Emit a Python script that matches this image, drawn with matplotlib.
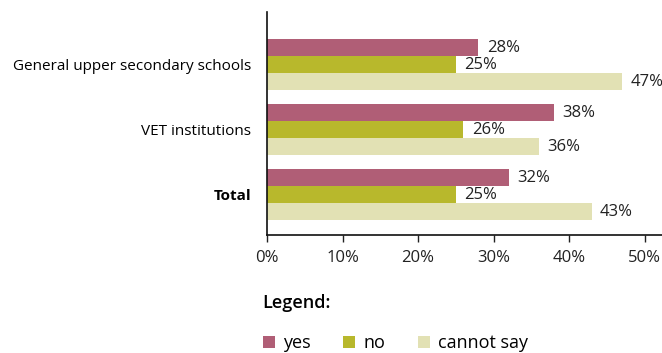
import numpy as np
import matplotlib
matplotlib.use("Agg")
from matplotlib import pyplot as plt
from matplotlib.patches import Patch

plt.rcParams["font.family"] = ["Open Sans", "DejaVu Sans"]

categories = ["General upper secondary schools", "VET institutions", "Total"]
series = ["yes", "no", "cannot say"]
yes = [28, 38, 32]
no = [25, 26, 25]
cannot_say = [47, 36, 43]
colors = ["#B05E76", "#B8B82C", "#E2E1B4"]

fig = plt.figure(figsize=(6.62, 3.53), dpi=100)
ax = fig.add_axes([267 / 662, 1 - 235 / 353, (662 - 267) / 662, (235 - 12) / 353])

y = np.arange(len(categories))
h = 0.262
for i, (vals, c) in enumerate(zip([yes, no, cannot_say], colors)):
    pos = y + (i - 1) * h
    ax.barh(pos, vals, height=h, color=c, label=series[i])
    for p, v in zip(pos, vals):
        ax.text(v + 1.1, p, f"{v}%", va="center", ha="left", fontsize=12, color="#222222")

ax.set_xlim(0, 52.3)
ax.set_ylim(2.62, -0.81)
ax.set_xticks(np.arange(0, 51, 10))
ax.set_xticklabels([f"{t}%" for t in range(0, 51, 10)], fontsize=12)
ax.set_yticks(y)
ax.set_yticklabels(categories, fontsize=11)
ax.get_yticklabels()[2].set_fontweight("bold")
ax.tick_params(axis="y", length=0, pad=11.5)
ax.tick_params(axis="x", length=5, width=1, pad=5.5, colors="#222222")
for s in ["top", "right"]:
    ax.spines[s].set_visible(False)
for s in ["left", "bottom"]:
    ax.spines[s].set_linewidth(1.2)
    ax.spines[s].set_color("#111111")

fig.text(262 / 662, 1 - 303 / 353, "Legend:", fontsize=13, fontweight="semibold", va="center", ha="left")
handles = [Patch(facecolor=c, label=s) for c, s in zip(colors, series)]
fig.legend(handles=handles, loc="center left", bbox_to_anchor=(250 / 662, 1 - 343 / 353),
           ncol=3, frameon=False, fontsize=13, handlelength=0.67, handleheight=0.67,
           handletextpad=0.45, columnspacing=1.8, borderpad=0.2)

fig.savefig("out.png", dpi=100)
